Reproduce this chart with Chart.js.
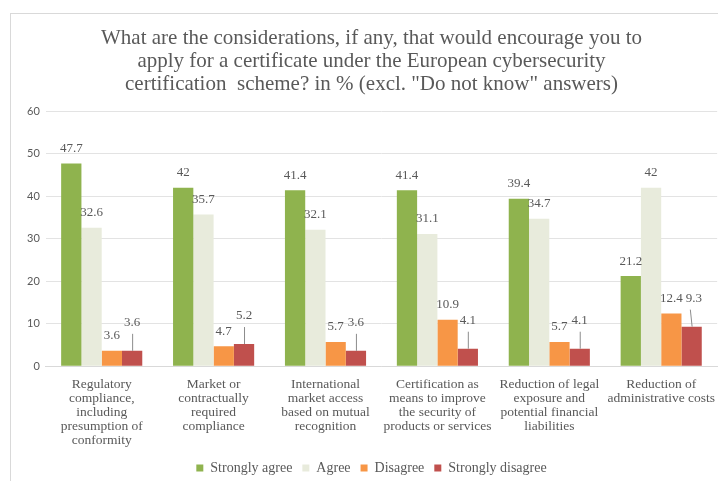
<!DOCTYPE html>
<html>
<head>
<meta charset="utf-8">
<title>Certificate considerations</title>
<script src="https://cdn.jsdelivr.net/npm/chart.js@4.4.1/dist/chart.umd.min.js"></script>
<style>
  body { margin: 0; background: #fff; }
  #frame { position: absolute; left: 10px; top: 13px; width: 720px; height: 480px; border: 1px solid #d9d9d9; }
  #wrap { position: absolute; left: 0; top: 0; width: 718px; height: 481px; }
</style>
</head>
<body>
<div id="frame"></div>
<div id="wrap"><canvas id="myChart"></canvas></div>

<script>
// data
var categories = [
  ["Regulatory", "compliance,", "including", "presumption of", "conformity"],
  ["Market or", "contractually", "required", "compliance"],
  ["International", "market access", "based on mutual", "recognition"],
  ["Certification as", "means to improve", "the security of", "products or services"],
  ["Reduction of legal", "exposure and", "potential financial", "liabilities"],
  ["Reduction of", "administrative costs"]
];
var stronglyAgree    = [47.7, 42, 41.4, 41.4, 39.4, 21.2];
var agree            = [32.6, 35.7, 32.1, 31.1, 34.7, 42];
var disagree         = [3.6, 4.7, 5.7, 10.9, 5.7, 12.4];
var stronglyDisagree = [3.6, 5.2, 3.6, 4.1, 4.1, 9.3];
var yTicks = [0, 10, 20, 30, 40, 50, 60];

var serif = "'Liberation Serif', 'Times New Roman', serif";
var grey = '#595959';
Chart.defaults.font.family = serif;

// value labels above bars, red ones raised with a small leader line
var valueLabels = {
  id: 'valueLabels',
  afterDatasetsDraw: function(chart) {
    var ctx = chart.ctx;
    ctx.save();
    ctx.font = '13px ' + serif;
    ctx.fillStyle = grey;
    ctx.textAlign = 'center';
    ctx.textBaseline = 'middle';
    var orangeBoxes = [];
    chart.data.datasets.forEach(function(ds, i) {
      var meta = chart.getDatasetMeta(i);
      meta.data.forEach(function(bar, j) {
        var txt = String(ds.data[j]);
        var w = ctx.measureText(txt).width;
        var x = bar.x;
        var y = bar.y - 15;
        if (i === 2) orangeBoxes[j] = { x: x, y: y, w: w };
        if (i === 3) {
          var ly = bar.y - 17;
          y = ly - 11;
          var o = orangeBoxes[j];
          var lx = bar.x;
          if (o && Math.abs(o.y - y) < 13 && x - w / 2 < o.x + o.w / 2 + 3) {
            x = o.x + o.w / 2 + 3 + w / 2;
            lx = x - 4;
          }
          ctx.strokeStyle = '#8c8c8c';
          ctx.lineWidth = 1;
          ctx.beginPath();
          ctx.moveTo(bar.x + 0.5, bar.y);
          ctx.lineTo(lx + 0.5, ly);
          ctx.stroke();
        }
        ctx.fillText(txt, x, y);
      });
    });
    ctx.restore();
  }
};

var ctx = document.getElementById("myChart").getContext('2d');
var myChart = new Chart(ctx, {
  type: 'bar',
  data: {
    labels: categories,
    datasets: [
      { label: 'Strongly agree', data: stronglyAgree, backgroundColor: '#8fb34e' },
      { label: 'Agree', data: agree, backgroundColor: '#e8ebdc' },
      { label: 'Disagree', data: disagree, backgroundColor: '#f79646' },
      { label: 'Strongly disagree', data: stronglyDisagree, backgroundColor: '#c0504d' }
    ]
  },
  options: {
    responsive: true,
    maintainAspectRatio: false,
    animation: false,
    layout: { padding: { left: 21, right: -4, top: 14, bottom: -4 } },
    datasets: { bar: { categoryPercentage: 0.725, barPercentage: 1 } },
    plugins: {
      title: {
        display: true,
        text: [
          'What are the considerations, if any, that would encourage you to',
          'apply for a certificate under the European cybersecurity',
          'certification  scheme? in % (excl. "Do not know" answers)'
        ],
        color: grey,
        font: { family: serif, size: 21, weight: 'normal', lineHeight: 1.1 },
        padding: { top: 13, bottom: 15 }
      },
      legend: {
        position: 'bottom',
        labels: {
          color: grey,
          font: { family: serif, size: 14 },
          boxWidth: 7,
          boxHeight: 7,
          padding: 10
        }
      },
      tooltip: { enabled: false }
    },
    scales: {
      x: {
        grid: { display: false },
        border: { color: '#d9d9d9' },
        ticks: {
          color: grey,
          font: { family: serif, size: 13.5, lineHeight: 1.05 },
          maxRotation: 0,
          autoSkip: false,
          padding: 3
        }
      },
      y: {
        min: 0,
        max: 60,
        afterBuildTicks: function(axis) {
          axis.ticks = yTicks.map(function(v) { return { value: v }; });
        },
        grid: { color: '#e3e3e3', drawTicks: false },
        border: { display: false },
        ticks: {
          color: grey,
          font: { family: "Lato, 'Liberation Sans', sans-serif", size: 11 },
          padding: 6
        }
      }
    }
  },
  plugins: [valueLabels]
});
</script>
</body>
</html>
